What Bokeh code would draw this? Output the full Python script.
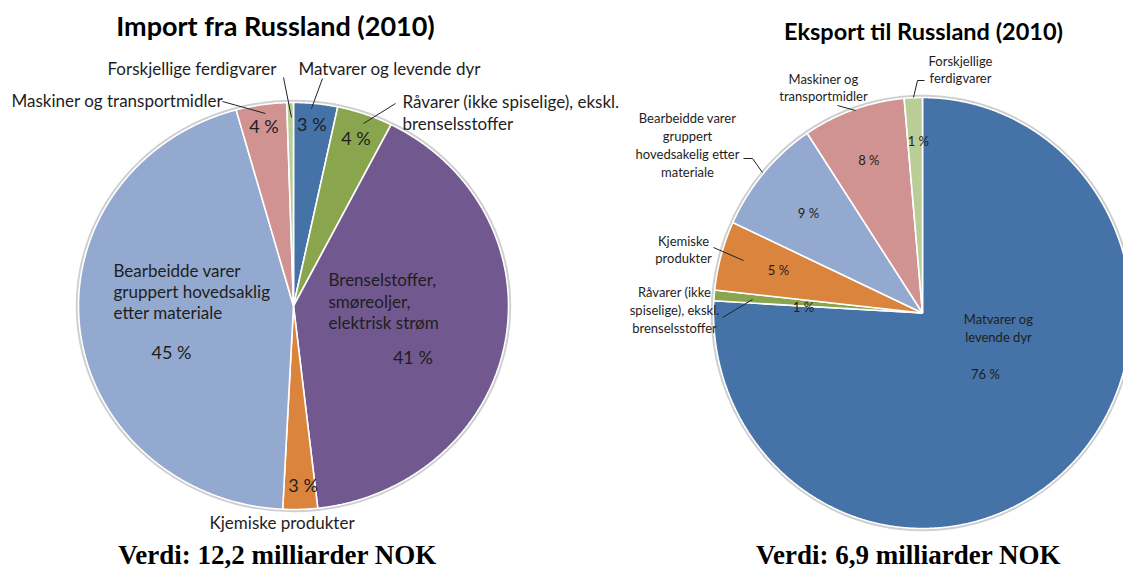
import numpy as np
from bokeh.plotting import figure
from bokeh.models import Range1d
from bokeh.core.properties import value
from bokeh.embed import file_html
from bokeh.resources import INLINE

# ---------------- data ----------------
imp_categories = ["Matvarer og levende dyr",
                  "Råvarer (ikke spiselige), ekskl. brenselsstoffer",
                  "Brenselstoffer, smøreoljer, elektrisk strøm",
                  "Kjemiske produkter",
                  "Bearbeidde varer gruppert hovedsaklig etter materiale",
                  "Maskiner og transportmidler",
                  "Forskjellige ferdigvarer"]
imp_values = [3.3, 4.2, 40.7, 2.6, 44.9, 3.8, 0.5]
imp_pct_labels = ["3 %", "4 %", "41 %", "3 %", "45 %", "4 %", ""]

exp_categories = ["Matvarer og levende dyr",
                  "Råvarer (ikke spiselige), ekskl. brenselsstoffer",
                  "Kjemiske produkter",
                  "Bearbeidde varer gruppert hovedsakelig etter materiale",
                  "Maskiner og transportmidler",
                  "Forskjellige ferdigvarer"]
exp_values = [75.9, 0.8, 5.2, 8.8, 7.9, 1.4]
exp_pct_labels = ["76 %", "1 %", "5 %", "9 %", "8 %", "1 %"]

imp_title = "Import fra Russland (2010)"
exp_title = "Eksport til Russland (2010)"
imp_total = "Verdi: 12,2 milliarder NOK"
exp_total = "Verdi: 6,9 milliarder NOK"

# ---------------- styles / layout ----------------
cat_colors = {
    "Matvarer og levende dyr": "#4572A7",
    "Råvarer (ikke spiselige), ekskl. brenselsstoffer": "#89A54E",
    "Brenselstoffer, smøreoljer, elektrisk strøm": "#71588F",
    "Kjemiske produkter": "#DB843D",
    "Bearbeidde varer gruppert hovedsaklig etter materiale": "#93A9CF",
    "Bearbeidde varer gruppert hovedsakelig etter materiale": "#93A9CF",
    "Maskiner og transportmidler": "#D19392",
    "Forskjellige ferdigvarer": "#B9CD96",
}
FONT = "Lato"
TXT = "#1e1e1e"

W, H = 1123, 569
p = figure(width=W, height=H, x_range=Range1d(0, W), y_range=Range1d(H, 0),
           output_backend="svg", toolbar_location=None, min_border=0,
           background_fill_color="white", border_fill_color="white")
p.axis.visible = False
p.grid.visible = False
p.outline_line_color = None


def wedges(values, cx, cy, rx, ry):
    v = np.asarray(values, float)
    cum = np.concatenate([[0.0], np.cumsum(v)]) / v.sum() * 2 * np.pi
    xs, ys = [], []
    for a0, a1 in zip(cum[:-1], cum[1:]):
        n = max(int((a1 - a0) / 0.005), 3)
        t = np.linspace(a0, a1, n)
        xs.append(np.concatenate([[cx], cx + rx * np.sin(t)]).tolist())
        ys.append(np.concatenate([[cy], cy - ry * np.cos(t)]).tolist())
    return xs, ys, cum


def draw_pie(values, cats, pct_labels, cx, cy, rx, ry, pct_r, pct_da, pct_size):
    p.ellipse(x=[cx], y=[cy], width=[2 * rx + 3], height=[2 * ry + 3],
              fill_color=None, line_color="#cfcfcf", line_width=2.5)
    xs, ys, cum = wedges(values, cx, cy, rx, ry)
    p.patches(xs=xs, ys=ys, fill_color=[cat_colors[c] for c in cats],
              line_color="white", line_width=1.6)
    mids = (cum[:-1] + cum[1:]) / 2
    tx, ty, tt = [], [], []
    for m, r, da, lab in zip(mids, pct_r, pct_da, pct_labels):
        a = m + np.deg2rad(da)
        tx.append(cx + r * rx * np.sin(a))
        ty.append(cy - r * ry * np.cos(a))
        tt.append(lab)
    p.text(x=tx, y=ty, text=tt, text_font=value(FONT), text_font_size=value(pct_size),
           text_color=TXT, text_align="center", text_baseline="middle")


# left pie (import)
draw_pie(imp_values, imp_categories, imp_pct_labels, 293, 305.5, 215, 203.5,
         pct_r=[0.90, 0.877, 0.61, 0.883, 0.612, 0.897, 0.9],
         pct_da=[-0.5, -0.1, 14.2, -1.1, -15.6, -0.2, 0],
         pct_size="18px")
# right pie (export)
draw_pie(exp_values, exp_categories, exp_pct_labels, 922, 312.5, 209, 215.5,
         pct_r=[0.412, 0.57, 0.717, 0.717, 0.753, 0.80],
         pct_da=[-3.6, -2.1, 0.5, -0.2, -0.7, 1.1],
         pct_size="13px")


def label(lines, x, y0, dy, align, size):
    ys = [y0 + i * dy for i in range(len(lines))]
    p.text(x=[x] * len(lines), y=ys, text=lines, text_font=value(FONT),
           text_font_size=value(size), text_color=TXT, text_align=align,
           text_baseline="middle")


# left category labels
LS = "17px"
label(["Forskjellige ferdigvarer"], 107, 68, 0, "left", LS)
label(["Matvarer og levende dyr"], 298, 68, 0, "left", LS)
label(["Maskiner og transportmidler"], 11, 100, 0, "left", LS)
label(["Råvarer (ikke spiselige), ekskl.", "brenselsstoffer"], 402, 101, 22, "left", LS)
label(["Bearbeidde varer", "gruppert hovedsaklig", "etter materiale"], 113, 270, 21, "left", LS)
label(["Brenselstoffer,", "smøreoljer,", "elektrisk strøm"], 328, 279, 21.5, "left", LS)
label(["Kjemiske produkter"], 209, 522, 0, "left", LS)

# right category labels
RS = "13px"
label(["Forskjellige", "ferdigvarer"], 960, 60, 17.5, "center", RS)
label(["Maskiner og", "transportmidler"], 823, 78, 17.5, "center", RS)
label(["Bearbeidde varer", "gruppert", "hovedsakelig etter", "materiale"], 687, 117, 18, "center", RS)
label(["Kjemiske", "produkter"], 683, 240, 17, "center", RS)
label(["Råvarer (ikke", "spiselige), ekskl.", "brenselsstoffer"], 674, 291, 18, "center", RS)
label(["Matvarer og", "levende dyr"], 998, 318, 18, "center", RS)

# leader lines
leaders = [
    [(222, 101), (265, 113)],
    [(283, 77), (291, 117)],
    [(322, 78), (311, 108)],
    [(395, 103), (363, 123)],
    [(924, 80), (917, 80), (913, 97)],
    [(837, 105), (855, 110)],
    [(743, 158), (752, 158), (762, 172)],
    [(713, 247), (743, 260)],
    [(722, 317), (752, 299)],
]
p.multi_line(xs=[[a for a, b in l] for l in leaders], ys=[[b for a, b in l] for l in leaders],
             line_color="#222222", line_width=1)

# titles
p.text(x=[275], y=[25], text=[imp_title], text_font=value(FONT), text_font_size=value("27px"),
       text_font_style="bold", text_color="black", text_align="center", text_baseline="middle")
p.text(x=[923], y=[30], text=[exp_title], text_font=value(FONT), text_font_size=value("23.5px"),
       text_font_style="bold", text_color="black", text_align="center", text_baseline="middle")

# totals
p.text(x=[277], y=[554], text=[imp_total], text_font=value("Liberation Serif"),
       text_font_size=value("27px"), text_font_style="bold", text_color="black",
       text_align="center", text_baseline="middle")
p.text(x=[908], y=[554], text=[exp_total], text_font=value("Liberation Serif"),
       text_font_size=value("27px"), text_font_style="bold", text_color="black",
       text_align="center", text_baseline="middle")

open("out.html", "w").write(file_html(p, INLINE))
